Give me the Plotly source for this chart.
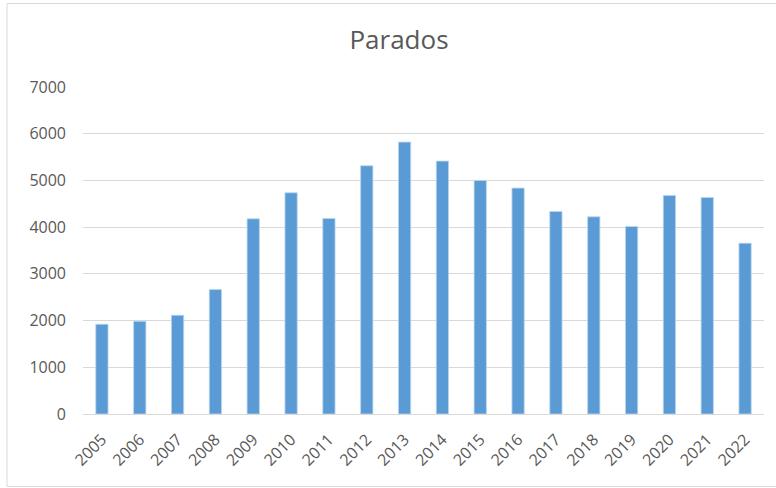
import plotly.graph_objects as go

years = ["2005", "2006", "2007", "2008", "2009", "2010", "2011", "2012", "2013",
         "2014", "2015", "2016", "2017", "2018", "2019", "2020", "2021", "2022"]
parados = [1921, 1986, 2114, 2664, 4179, 4736, 4186, 5314, 5821,
           5414, 5000, 4836, 4336, 4221, 4014, 4679, 4636, 3657]
y_ticks = [0, 1000, 2000, 3000, 4000, 5000, 6000, 7000]

W, H = 776, 488
left, right, top, bottom = 83, 12, 87, 74
pw, ph = W - left - right, H - top - bottom

font_family = "Open Sans, sans-serif"

fig = go.Figure(go.Bar(
    x=years, y=parados,
    marker=dict(color="#5B9BD5", line=dict(color="#BDD7EE", width=0.8)),
))

# outer chart frame, expressed in paper coordinates of the plot area
def px_x(v):
    return (v - left) / pw

def px_y(v):
    return (H - bottom - v) / ph

fig.add_shape(type="rect", xref="paper", yref="paper",
              x0=px_x(7), x1=px_x(790), y0=px_y(3.5), y1=px_y(486.5),
              line=dict(color="#D9D9D9", width=1), fillcolor="rgba(0,0,0,0)",
              layer="below")

fig.update_layout(
    width=W, height=H,
    margin=dict(l=left, r=right, t=top, b=bottom, autoexpand=False),
    paper_bgcolor="white", plot_bgcolor="white",
    bargap=0.675,
    showlegend=False,
    title=dict(text="Parados", x=399 / W, xanchor="center", y=1 - 40 / H, yanchor="middle",
               font=dict(family=font_family, size=26, color="#595959")),
    font=dict(family=font_family, size=16, color="#595959"),
    xaxis=dict(type="category", tickangle=-45, showgrid=False, showline=True,
               linecolor="#D9D9D9", linewidth=1, ticks="", ticklabelstandoff=9,
               tickfont=dict(size=16, color="#595959")),
    yaxis=dict(range=[0, 7000], tickvals=y_ticks, showgrid=True,
               gridcolor="#D9D9D9", gridwidth=1, zeroline=False, showline=False,
               ticks="", ticklabelstandoff=16,
               tickfont=dict(size=16, color="#595959")),
)

fig.write_html("out.html")
